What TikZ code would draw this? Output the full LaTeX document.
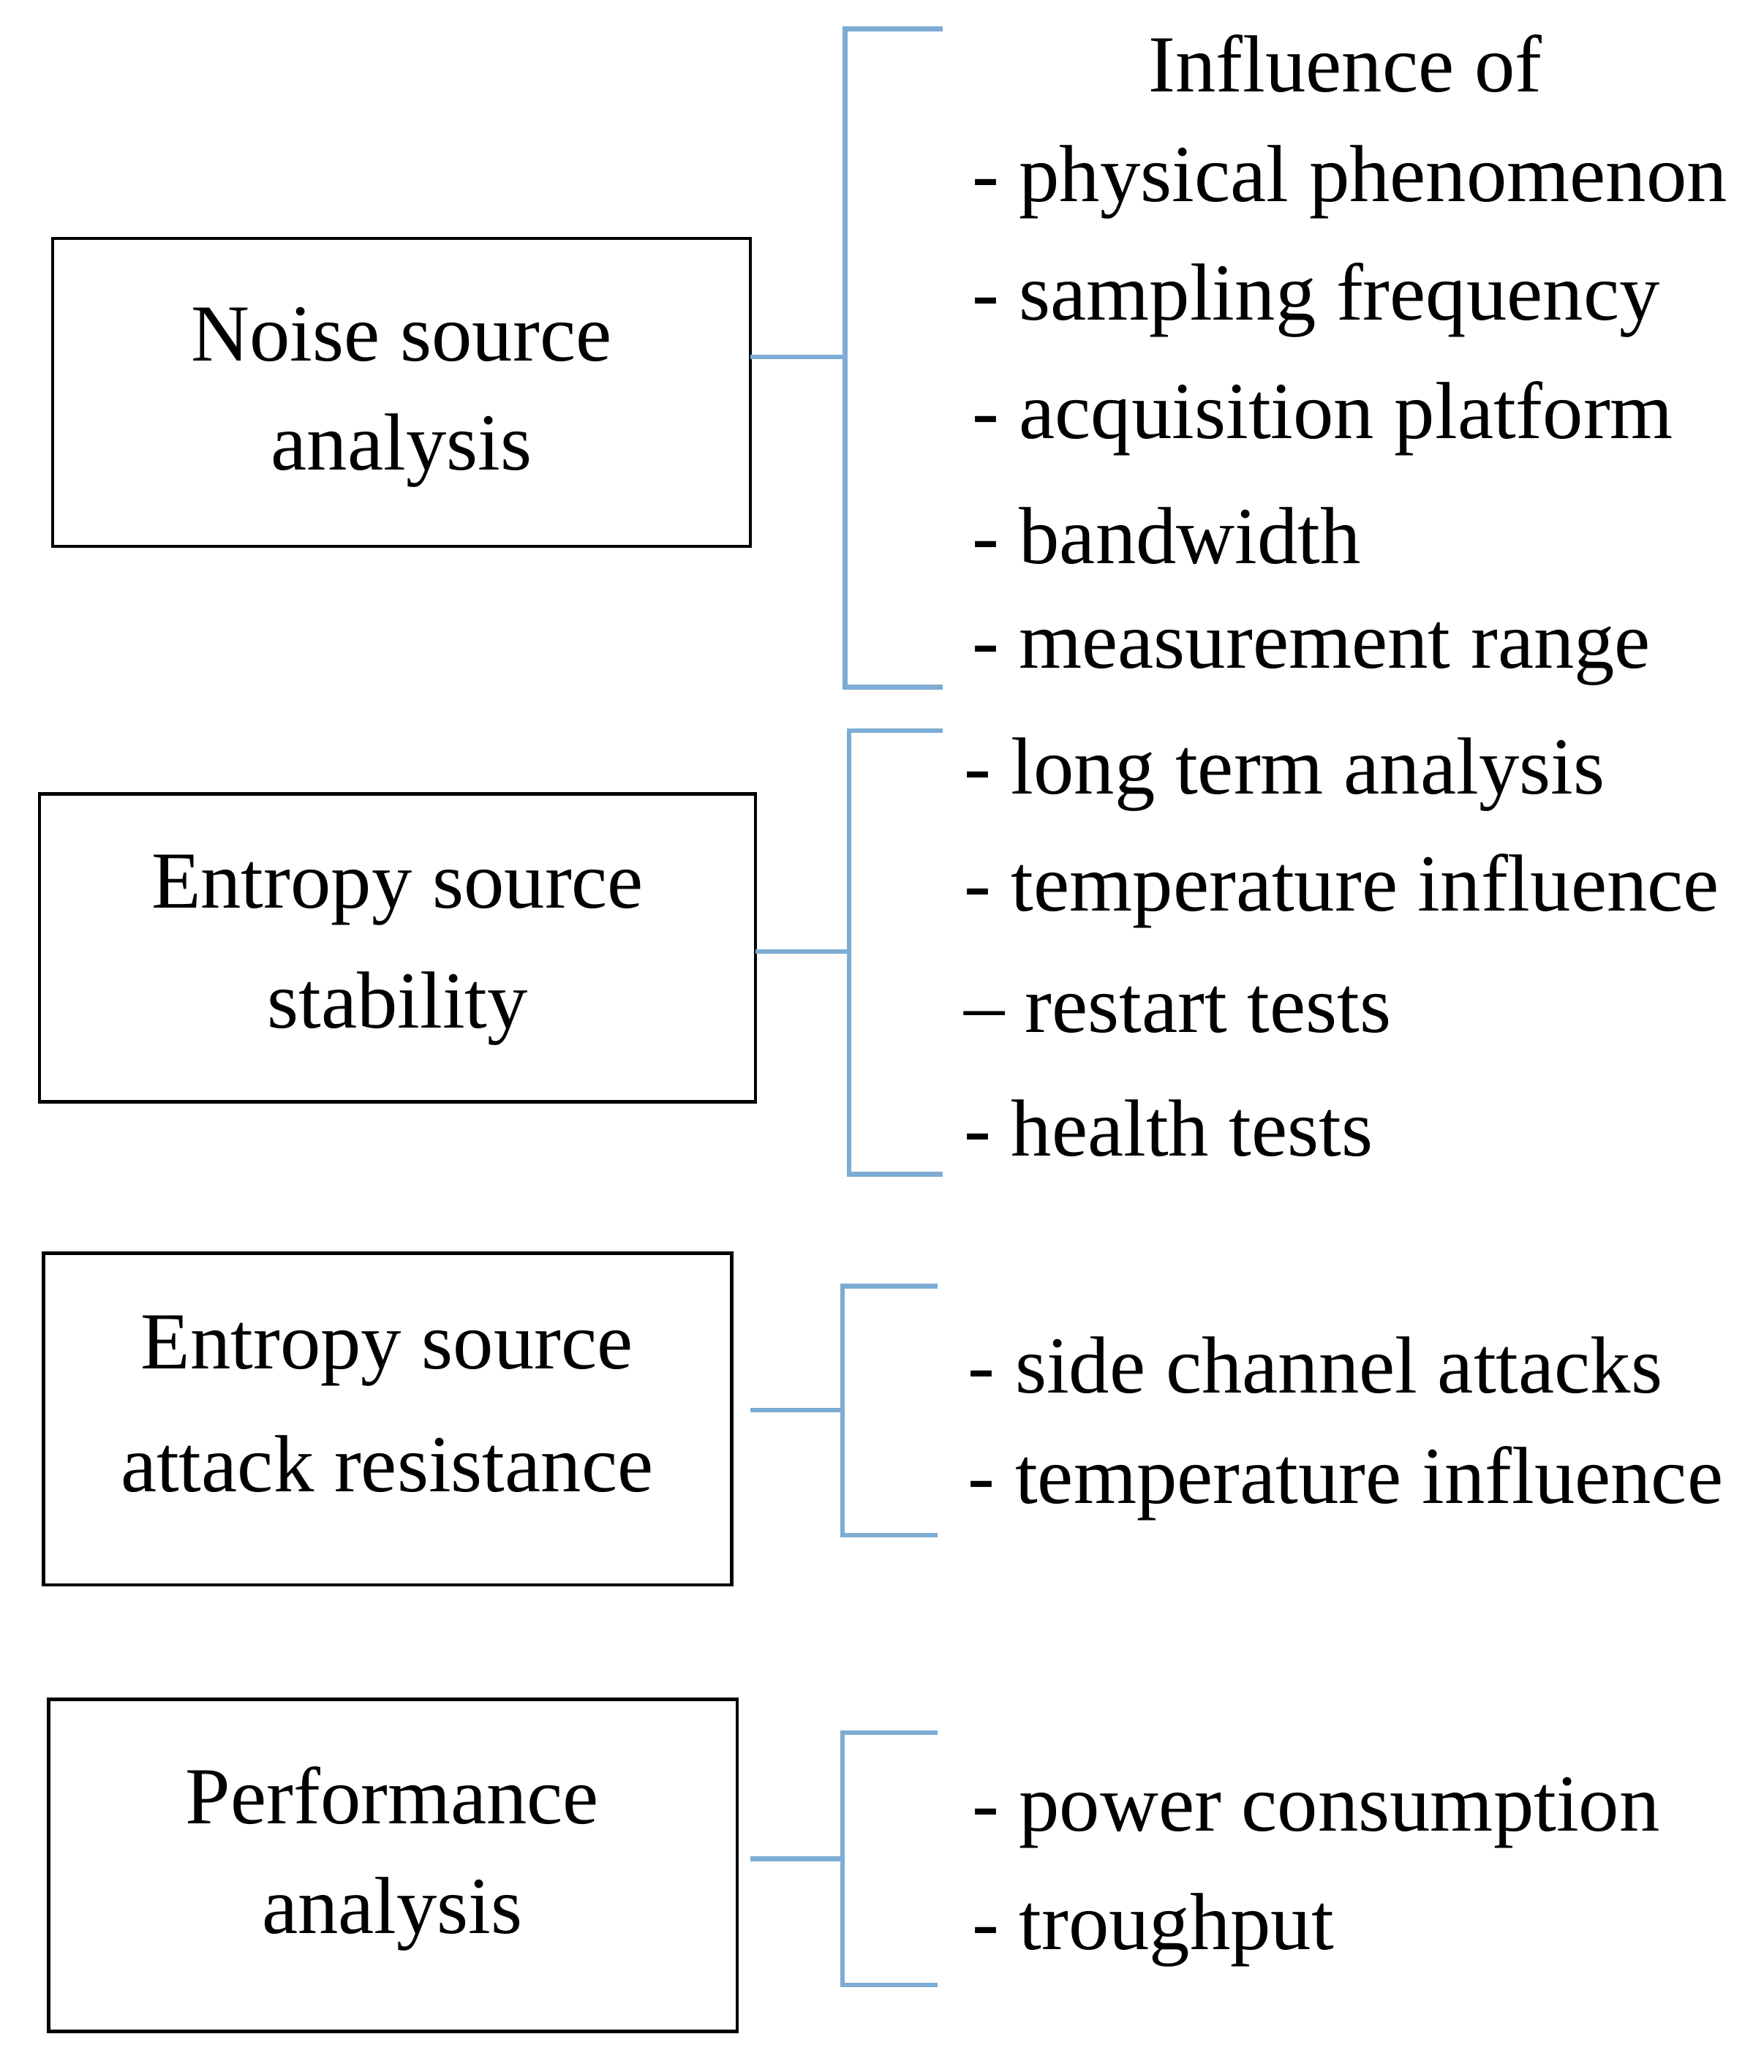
\documentclass[tikz,border=0pt]{standalone}
\usepackage{fontspec}
\setmainfont{Liberation Serif}
\definecolor{br}{RGB}{125,172,212}
\begin{document}
\begin{tikzpicture}[x=0.018cm,y=-0.018cm,
 box/.style={draw=black,line width=1.3pt},
 br/.style={draw=br,line width=1.8pt},
 t/.style={anchor=west,inner sep=0pt,yshift=-0.11cm,font=\fontsize{31.5}{36}\selectfont},
 c/.style={inner sep=0pt,yshift=-0.11cm,font=\fontsize{31.5}{36}\selectfont}]
\useasboundingbox (0,0) rectangle (1340,1574);
% boxes
\draw[box] (40,181) rectangle (570,415);
\draw[box] (30,603) rectangle (574,837);
\draw[box] (33,952) rectangle (556,1204);
\draw[box] (37,1291) rectangle (560,1543);
\node[c] (b1a) at (305,248) {Noise source};
\node[c] (b1b) at (305,336) {analysis};
\node[c] (b2a) at (302,670) {Entropy source};
\node[c] (b2b) at (302,760) {stability};
\node[c] (b3a) at (294,1020) {Entropy source};
\node[c] (b3b) at (294,1106) {attack resistance};
\node[c] (b4a) at (298,1358) {Performance};
\node[c] (b4b) at (298,1448) {analysis};
% brackets
\coordinate (p1) at (570,271); \coordinate (q1) at (642,271);
\draw[br] (716,22) -- (642,22) -- (642,522) -- (716,522);
\draw[br] (p1) -- (q1);
\coordinate (p2) at (574,723); \coordinate (q2) at (645,723);
\draw[br] (716,555) -- (645,555) -- (645,892) -- (716,892);
\draw[br] (p2) -- (q2);
\coordinate (p3) at (570,1071); \coordinate (q3) at (640,1071);
\draw[br] (712,977) -- (640,977) -- (640,1166) -- (712,1166);
\draw[br] (p3) -- (q3);
\coordinate (p4) at (570,1412); \coordinate (q4) at (640,1412);
\draw[br] (712,1316) -- (640,1316) -- (640,1508) -- (712,1508);
\draw[br] (p4) -- (q4);
% texts
\node[c] (h) at (1022,42) {Influence of};
\node[t] (a1) at (738,132) {- physical phenomenon};
\node[t] (a2) at (738,222) {- sampling frequency};
\node[t] (a3) at (738,312) {- acquisition platform};
\node[t] (a4) at (738,401) {- bandwidth};
\node[t] (a5) at (738,491) {- measurement range};
\node[t] (s1) at (732,582) {- long term analysis};
\node[t] (s2) at (732,671) {- temperature influence};
\node[t] (s3) at (732,761) {-- restart tests};
\node[t] (s4) at (732,851) {- health tests};
\node[t] (r1) at (735,1031) {- side channel attacks};
\node[t] (r2) at (735,1121) {- temperature influence};
\node[t] (f1) at (738,1371) {- power consumption};
\node[t] (f2) at (738,1460) {- troughput};
\end{tikzpicture}
\end{document}
